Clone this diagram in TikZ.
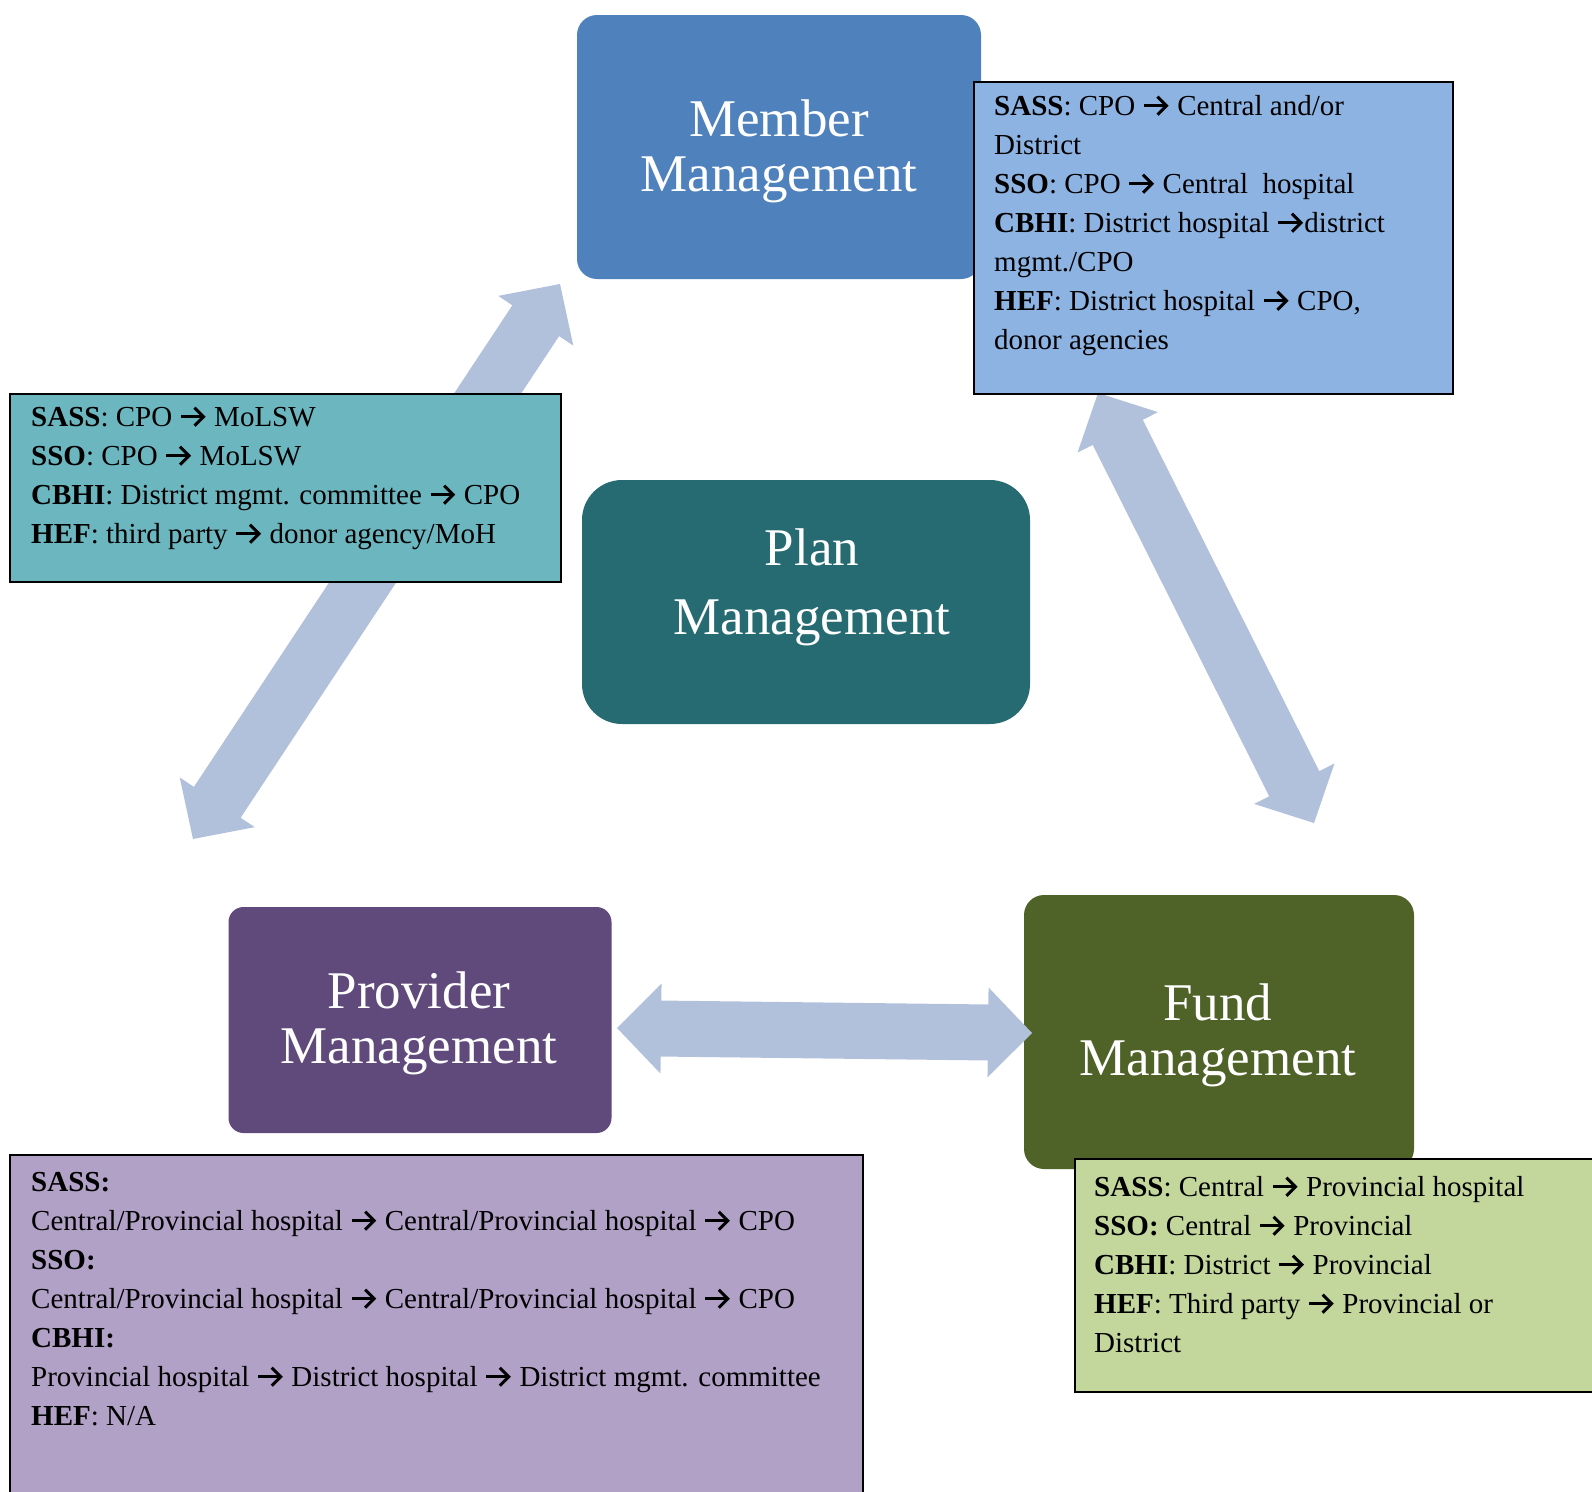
\documentclass[tikz,border=0pt]{standalone}
\usepackage{fontspec}
\setmainfont{Liberation Serif}
\usetikzlibrary{calc}
\definecolor{membc}{HTML}{4F81BD}
\definecolor{planc}{HTML}{266B72}
\definecolor{provc}{HTML}{604A7B}
\definecolor{fundc}{HTML}{4F6228}
\definecolor{arrowc}{HTML}{B2C1DB}
\definecolor{blueinfoc}{HTML}{8DB3E2}
\definecolor{tealinfoc}{HTML}{6CB6C0}
\definecolor{greeninfoc}{HTML}{C3D69B}
\definecolor{purpinfoc}{HTML}{B1A1C7}
\newcommand\myarr{\tikz[baseline=0pt,x=1pt,y=1pt]{\path (-1pt,0pt) rectangle (26pt,19pt);
  \draw[line width=3pt, line cap=butt] (0pt,9.5pt) -- (22pt,9.5pt);
  \draw[line width=3pt, line join=miter, line cap=butt] (13.5pt,18.5pt) -- (22.5pt,9.5pt) -- (13.5pt,0.5pt);}}
\newcommand\dblarrow[2]{%
  \fill[arrowc] (#1)
    -- ($(#1)!44pt!(#2)!45pt!90:(#2)$)
    -- ($(#1)!44pt!(#2)!28pt!90:(#2)$)
    -- ($(#2)!44pt!(#1)!28pt!-90:(#1)$)
    -- ($(#2)!44pt!(#1)!45pt!-90:(#1)$)
    -- (#2)
    -- ($(#2)!44pt!(#1)!45pt!90:(#1)$)
    -- ($(#2)!44pt!(#1)!28pt!90:(#1)$)
    -- ($(#1)!44pt!(#2)!28pt!-90:(#2)$)
    -- ($(#1)!44pt!(#2)!45pt!-90:(#2)$)
    -- cycle;}
\tikzset{
  mainbox/.style={draw=none, inner sep=0pt},
  maintext/.style={text=white, align=center, inner sep=0pt, font=\fontsize{53}{55}\selectfont},
  infobox/.style={draw=black, line width=1.5pt, inner sep=0pt, anchor=north west},
  infotext/.style={text=black, align=left, inner sep=0pt, anchor=north west, font=\fontsize{29}{39}\selectfont},
}
\begin{document}
\begin{tikzpicture}[x=1pt,y=-1pt]
\useasboundingbox (0,0) rectangle (1592,1491);
% main boxes
\node[mainbox, fill=membc, minimum width=404pt, minimum height=264pt, rounded corners=20pt] (member) at (779,147) {};
\node[mainbox, fill=planc, minimum width=448pt, minimum height=244pt, rounded corners=40pt] (plan) at (806,602) {};
\node[mainbox, fill=provc, minimum width=383pt, minimum height=226pt, rounded corners=15pt] (prov) at (420,1020) {};
\node[mainbox, fill=fundc, minimum width=390pt, minimum height=274pt, rounded corners=20pt] (fund) at (1219,1032) {};
\node[maintext] (membert) at (779,151) {Member\\Management};
\node[maintext, font=\fontsize{53}{69}\selectfont] (plant) at (812,587) {Plan\\Management};
\node[maintext] (provt) at (419,1023) {Provider\\Management};
\node[maintext] (fundt) at (1218,1035) {Fund\\Management};
% arrows
\coordinate (la1) at (560,284);
\coordinate (la2) at (193,839);
\coordinate (ra1) at (1098,393);
\coordinate (ra2) at (1314,823);
\coordinate (ha1) at (617,1028);
\coordinate (ha2) at (1032,1033);
\dblarrow{la1}{la2}
\dblarrow{ra1}{ra2}
\dblarrow{ha1}{ha2}
% info boxes
\node[infobox, fill=blueinfoc, minimum width=479pt, minimum height=312pt] (blueinfo) at (973,81) {};
\node[infotext] (bluetext) at (994,87.7) {\strut\textbf{SASS}: CPO \myarr{} Central and/or\\
District\\
\textbf{SSO}: CPO \myarr{} Central~ hospital\\
\textbf{CBHI}: District hospital \myarr district\\
mgmt./CPO\\
\textbf{HEF}: District hospital \myarr{} CPO,\\
donor agencies};
\node[infobox, fill=tealinfoc, minimum width=551pt, minimum height=188pt] (tealinfo) at (9,393) {};
\node[infotext] (tealtext) at (31,398.7) {\strut\textbf{SASS}: CPO \myarr{} MoLSW\\
\textbf{SSO}: CPO \myarr{} MoLSW\\
\textbf{CBHI}: District mgmt. committee \myarr{} CPO\\
\textbf{HEF}: third party \myarr{} donor agency/MoH};
\node[infobox, fill=greeninfoc, minimum width=540pt, minimum height=233pt] (greeninfo) at (1074,1158) {};
\node[infotext] (greentext) at (1094,1168.7) {\strut\textbf{SASS}: Central \myarr{} Provincial hospital\\
\textbf{SSO:} Central \myarr{} Provincial\\
\textbf{CBHI}: District \myarr{} Provincial\\
\textbf{HEF}: Third party \myarr{} Provincial or\\
District};
\node[infobox, fill=purpinfoc, minimum width=853pt, minimum height=360pt] (purpinfo) at (9,1154) {};
\node[infotext] (purptext) at (31,1163.7) {\strut\textbf{SASS:}\\
Central/Provincial hospital \myarr{} Central/Provincial hospital \myarr{} CPO\\
\textbf{SSO:}\\
Central/Provincial hospital \myarr{} Central/Provincial hospital \myarr{} CPO\\
\textbf{CBHI:}\\
Provincial hospital \myarr{} District hospital \myarr{} District mgmt. committee\\
\textbf{HEF}: N/A};
\end{tikzpicture}
\end{document}
